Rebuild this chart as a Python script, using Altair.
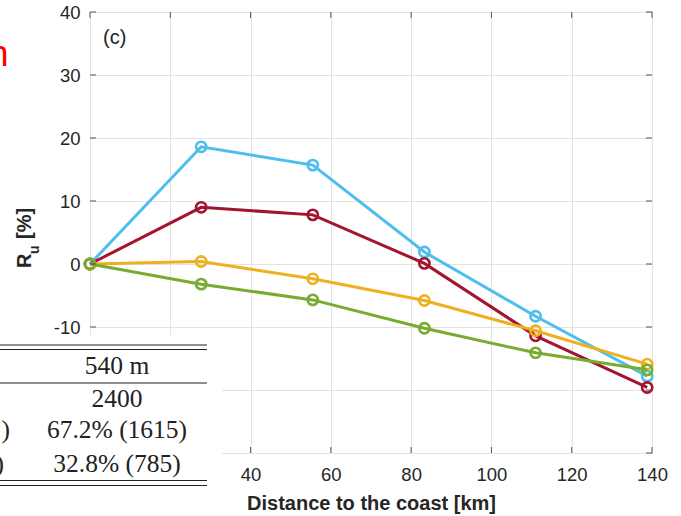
import altair as alt
import pandas as pd

# ---------------- data ----------------
km = [0, 27.7, 55.5, 83.3, 111.0, 138.8]
series_names = ["Series 1", "Series 2", "Series 3", "Series 4"]
blue_vals = [0, 18.6, 15.7, 1.9, -8.3, -17.8]
red_vals = [0, 9.0, 7.8, 0.1, -11.4, -19.6]
yellow_vals = [0, 0.4, -2.35, -5.8, -10.6, -15.9]
green_vals = [0, -3.2, -5.7, -10.2, -14.1, -16.8]
series_colors = ["#4DBEEE", "#A2142F", "#EDB120", "#77AC30"]

x_ticks = [0, 20, 40, 60, 80, 100, 120, 140]
y_ticks = [-30, -20, -10, 0, 10, 20, 30, 40]

table_rows = ["540 m", "2400", "67.2% (1615)", "32.8% (785)"]
panel_label = "(c)"
x_title = "Distance to the coast [km]"

# ---------------- layout ----------------
W, H = 562, 441
PAD = {"left": 90, "top": 12, "right": 29, "bottom": 63}
AXIS_COLOR = "#555555"
TEXT_COLOR = "#262626"
SANS = "Liberation Sans"
SERIF = "Liberation Serif"

all_vals = [blue_vals, red_vals, yellow_vals, green_vals]
rows = []
for name, vals in zip(series_names, all_vals):
    for k, v in zip(km, vals):
        rows.append({"km": k, "val": v, "series": name})
df = pd.DataFrame(rows)

xscale = alt.Scale(domain=[0, 140], nice=False, zero=False)
yscale = alt.Scale(domain=[-30, 40], nice=False, zero=False)
# labels that sit under the overlaid table are left blank
xaxis = alt.Axis(values=x_ticks, grid=True, ticks=False, domain=False,
                 labelPadding=12, labelFlush=False, title=x_title, titlePadding=10,
                 labelExpr="datum.value < 40 ? '' : '' + datum.value")
yaxis = alt.Axis(values=y_ticks, grid=True, ticks=False, domain=False,
                 labelPadding=10, labelFlush=False, title=None,
                 labelExpr="datum.value < -10 ? '' : '' + datum.value")


def X(field):
    return alt.X(field, type="quantitative", scale=xscale, axis=xaxis)


def Y(field):
    return alt.Y(field, type="quantitative", scale=yscale, axis=yaxis)


one = alt.Data(values=[{}])

layers = []
for name, col in zip(series_names, series_colors):
    sub = alt.Chart(df).transform_filter(alt.datum.series == name)
    layers.append(sub.mark_line(color=col, strokeWidth=3).encode(x=X("km"), y=Y("val")))
    layers.append(sub.mark_point(color=col, filled=False, size=105, strokeWidth=2.6, opacity=1)
                  .encode(x=X("km"), y=Y("val")))

# inward ticks (box style)
xt = pd.DataFrame({"km": x_ticks})
yt = pd.DataFrame({"val": y_ticks})
layers.append(alt.Chart(xt).mark_rule(color=AXIS_COLOR, strokeWidth=1)
              .encode(x=X("km"), y=alt.value(0), y2=alt.value(6)))
layers.append(alt.Chart(xt).mark_rule(color=AXIS_COLOR, strokeWidth=1)
              .encode(x=X("km"), y=alt.value(H - 6), y2=alt.value(H)))
layers.append(alt.Chart(yt).mark_rule(color=AXIS_COLOR, strokeWidth=1)
              .encode(y=Y("val"), x=alt.value(0), x2=alt.value(6)))
layers.append(alt.Chart(yt).mark_rule(color=AXIS_COLOR, strokeWidth=1)
              .encode(y=Y("val"), x=alt.value(W - 6), x2=alt.value(W)))

# panel label
layers.append(alt.Chart(one).mark_text(text=panel_label, font=SANS, fontSize=20,
                                       color=TEXT_COLOR, align="left", baseline="alphabetic")
              .encode(x=alt.value(13), y=alt.value(32)))

# y-axis title with subscript
layers.append(alt.Chart(one).mark_text(text="R", font=SANS, fontSize=20, fontWeight="bold",
                                       color=TEXT_COLOR, angle=270, align="left", baseline="alphabetic")
              .encode(x=alt.value(-59), y=alt.value(256)))
layers.append(alt.Chart(one).mark_text(text="u", font=SANS, fontSize=14, fontWeight="bold",
                                       color=TEXT_COLOR, angle=270, align="left", baseline="alphabetic")
              .encode(x=alt.value(-51), y=alt.value(242)))
layers.append(alt.Chart(one).mark_text(text="[%]", font=SANS, fontSize=20, fontWeight="bold",
                                       color=TEXT_COLOR, angle=270, align="left", baseline="alphabetic")
              .encode(x=alt.value(-59), y=alt.value(227)))

# red cut-off text at top-left
layers.append(alt.Chart(one).mark_text(text="n", font=SANS, fontSize=36, color="#ff0000",
                                       align="right", baseline="alphabetic")
              .encode(x=alt.value(-81.5), y=alt.value(54)))

# overlaid table (white panel)
layers.append(alt.Chart(one).mark_rect(color="white", opacity=1)
              .encode(x=alt.value(-90), x2=alt.value(132), y=alt.value(323), y2=alt.value(504)))
for ly in [333, 337.5, 371, 468.5, 473.5]:
    layers.append(alt.Chart(one).mark_rule(color="#222222", strokeWidth=1.2)
                  .encode(x=alt.value(-90), x2=alt.value(117), y=alt.value(ly)))
for txt, ty in zip(table_rows, [362, 395, 426, 459.5]):
    layers.append(alt.Chart(one).mark_text(text=txt, font=SERIF, fontSize=25.5, color="#222222",
                                           align="center", baseline="alphabetic")
                  .encode(x=alt.value(27), y=alt.value(ty)))
for tx, ty in zip([-80, -86], [426, 459.5]):
    layers.append(alt.Chart(one).mark_text(text=")", font=SERIF, fontSize=25.5, color="#222222",
                                           align="right", baseline="alphabetic")
                  .encode(x=alt.value(tx), y=alt.value(ty)))

chart = alt.layer(*layers).properties(
    width=W, height=H,
    autosize=alt.AutoSizeParams(type="none"),
    padding=PAD,
    background="white",
).configure_view(
    stroke=AXIS_COLOR, strokeWidth=1
).configure_axis(
    gridColor="#e2e2e2", gridWidth=1, gridOpacity=1,
    labelFont=SANS, labelFontSize=18.5, labelColor=TEXT_COLOR,
    titleFont=SANS, titleFontSize=20, titleFontWeight="bold", titleColor=TEXT_COLOR,
)

chart.save("out.html", embed_options={"renderer": "svg", "actions": False})
